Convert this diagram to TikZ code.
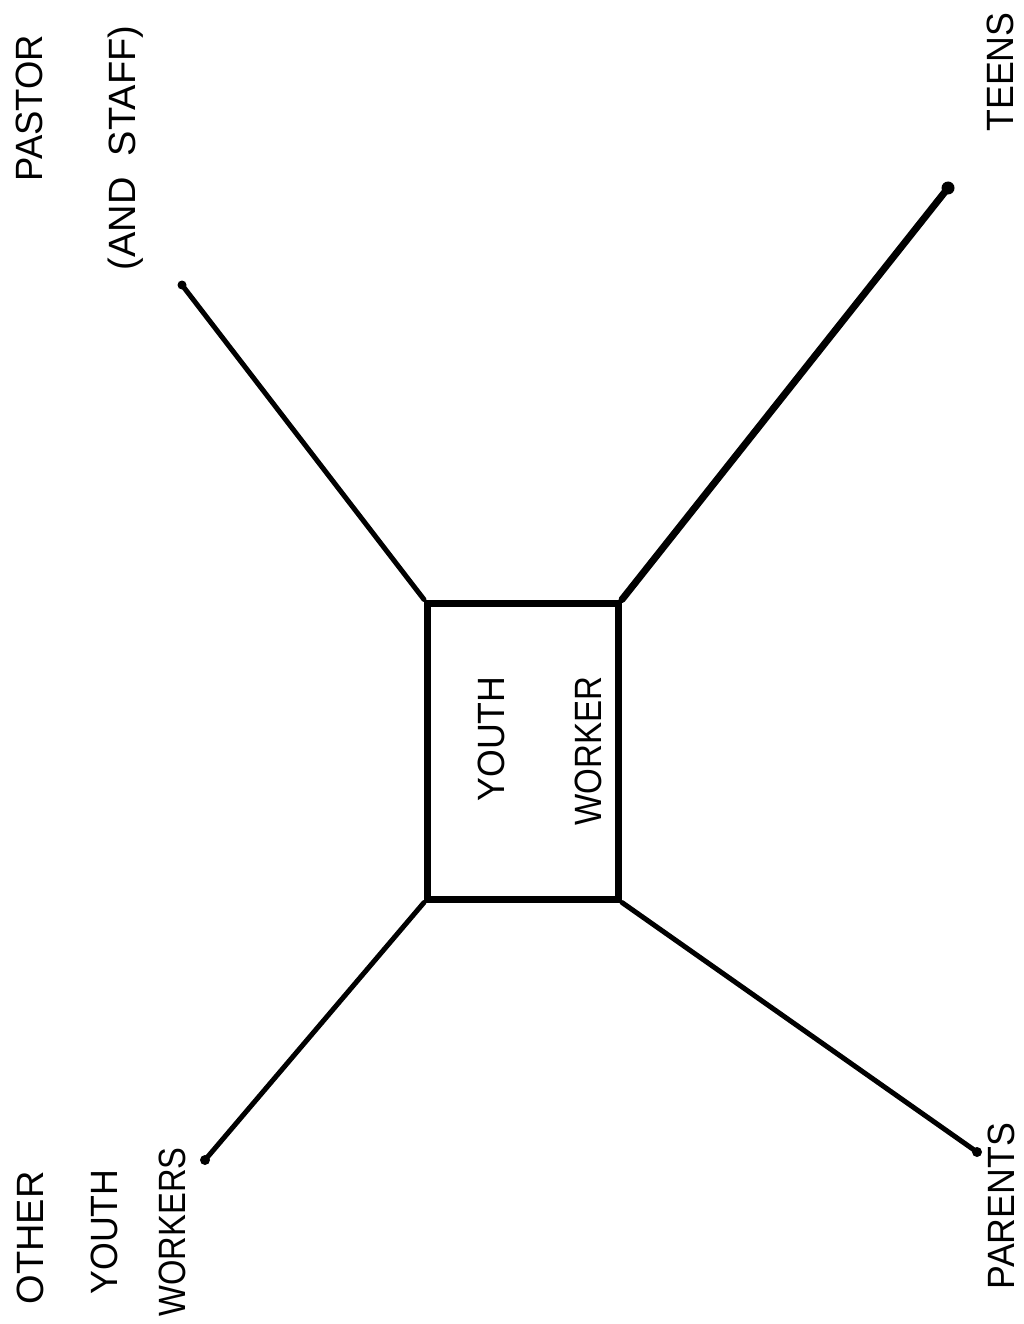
\documentclass[tikz,border=0pt]{standalone}
\usepackage{fontspec}
\setmainfont{Liberation Sans}
\usepackage{graphicx}
\begin{document}
\begin{tikzpicture}[x=1pt,y=-1pt,
  lbl/.style={rotate=90,inner sep=0pt,font=\fontsize{38}{40}\selectfont},
  spoke/.style={line width=5pt,line cap=round},
  hub/.style={draw,line width=7pt,minimum width=191pt,minimum height=296pt,inner sep=0pt}]
\useasboundingbox (0,0) rectangle (1023,1324);
\node[hub] (box) at (523,751) {};
\node[lbl] (yth) at (491,739) {\scalebox{0.94}[1]{YOUTH}};
\node[lbl] (wkr) at (588,751) {\scalebox{0.87}[1]{WORKER}};
\node[lbl] (pastor) at (29,108) {\scalebox{0.96}[1]{PASTOR}};
\node[lbl] (staff) at (126,148) {\scalebox{1.0}[1]{(AND\ \ STAFF)}};
\node[lbl] (teens) at (1000,72) {\scalebox{0.94}[1]{TEENS}};
\node[lbl] (other) at (30,1238) {\scalebox{1.0}[1]{OTHER}};
\node[lbl] (youth2) at (104,1232) {\scalebox{0.94}[1]{YOUTH}};
\node[lbl] (workers) at (172,1232) {\scalebox{0.86}[1]{WORKERS}};
\node[lbl] (parents) at (1001,1206) {\scalebox{0.94}[1]{PARENTS}};
\coordinate (pe) at (182,285);
\coordinate (te) at (948,188);
\coordinate (oe) at (205,1160);
\coordinate (re) at (977,1152);
\draw[spoke] (pe) -- (box.north west);
\draw[spoke,line width=7pt] (te) -- (box.north east);
\draw[spoke] (oe) -- (box.south west);
\draw[spoke] (re) -- (box.south east);
\fill (pe) circle (4.5pt);
\fill (te) circle (6.5pt);
\fill (oe) circle (5pt);
\fill (re) circle (5pt);
\end{tikzpicture}
\end{document}
